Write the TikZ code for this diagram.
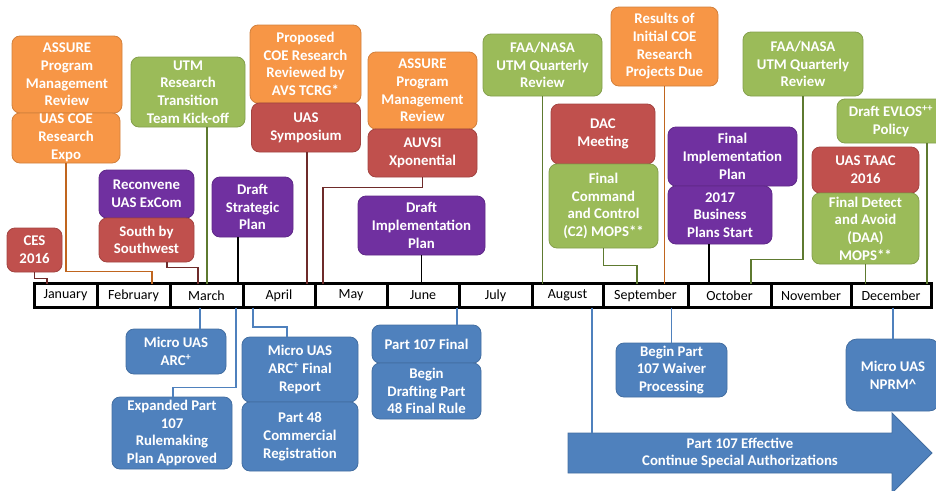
\documentclass[tikz,border=0pt]{standalone}
\usepackage{fontspec}
\setmainfont{Carlito}
\usepackage{tikz}
\usetikzlibrary{positioning}

\definecolor{orangefill}{HTML}{F79646}
\definecolor{greenfill}{HTML}{9BBB59}
\definecolor{redfill}{HTML}{C0504D}
\definecolor{purplefill}{HTML}{7030A0}
\definecolor{bluefill}{HTML}{4F81BD}
\definecolor{redwire}{HTML}{6E2B2A}
\definecolor{orangewire}{HTML}{C0651E}
\definecolor{greenwire}{HTML}{5E7A30}

\tikzset{
	event/.style={rounded corners=8pt, draw, line width=0.8pt, text=white, align=center,
		inner sep=1pt, font=\fontsize{14.8}{17.7}\selectfont\bfseries},
	orangebox/.style={event, fill=orangefill, draw=orangefill!85!black},
	greenbox/.style={event, fill=greenfill, draw=greenfill!85!black},
	redbox/.style={event, fill=redfill, draw=redfill!85!black},
	purplebox/.style={event, fill=purplefill, draw=purplefill!85!black},
	bluebox/.style={event, fill=bluefill, draw=bluefill!85!black},
	month/.style={draw, line width=3pt, fill=white, minimum height=24pt, outer sep=0pt,
		inner sep=0pt, font=\fontsize{14}{16}\selectfont},
	redline/.style={draw=redwire, line width=1.8pt},
	orangeline/.style={draw=orangewire, line width=1.8pt},
	greenline/.style={draw=greenwire, line width=1.8pt},
	blackline/.style={draw=black, line width=1.8pt},
	blueline/.style={draw=bluefill, line width=1.8pt}
}

\begin{document}
\begin{tikzpicture}[x=1pt, y=-1pt]
	\useasboundingbox (0,0) rectangle (936,490);
	
	\node[month, minimum width=63pt] (jan) at (65.5,295.5) {January};
	\node[month, minimum width=73pt, right=0pt of jan] (feb) {February};
	\node[month, minimum width=73pt, right=0pt of feb] (mar) {March};
	\node[month, minimum width=72pt, right=0pt of mar] (apr) {April};
	\node[month, minimum width=72pt, right=0pt of apr] (may) {May};
	\node[month, minimum width=72pt, right=0pt of may] (jun) {June};
	\node[month, minimum width=73pt, right=0pt of jun] (jul) {July};
	\node[month, minimum width=71pt, right=0pt of jul] (aug) {August};
	\node[month, minimum width=85pt, right=0pt of aug] (sep) {September};
	\node[month, minimum width=83pt, right=0pt of sep] (oct) {October};
	\node[month, minimum width=80pt, right=0pt of oct] (nov) {November};
	\node[month, minimum width=80pt, right=0pt of nov] (dec) {December};
	
	\node[orangebox, minimum width=110pt, minimum height=77pt] (assureA) at (67,74.5) {ASSURE\\Program\\Management\\Review};
	\node[orangebox, minimum width=108pt, minimum height=50pt] (coeExpo) at (66,138) {UAS COE\\Research\\Expo};
	\node[redbox, minimum width=55pt, minimum height=44pt] (ces) at (34.5,250) {CES\\2016};
	\node[purplebox, minimum width=95pt, minimum height=48pt] (exCom) at (146.5,194) {Reconvene\\UAS ExCom};
	\node[redbox, minimum width=95pt, minimum height=44pt] (sxsw) at (146.5,240) {South by\\Southwest};
	\node[greenbox, minimum width=114pt, minimum height=70pt] (utmKick) at (188,92) {UTM\\Research\\Transition\\Team Kick-off};
	\node[purplebox, minimum width=81pt, minimum height=60pt] (stratPlan) at (252.5,207) {Draft\\Strategic\\Plan};
	\node[orangebox, minimum width=111pt, minimum height=78pt] (proposed) at (305.5,64) {Proposed\\COE Research\\Reviewed by\\AVS TCRG*};
	\node[redbox, minimum width=109pt, minimum height=49pt] (symposium) at (306,127.5) {UAS\\Symposium};
	\node[orangebox, minimum width=109pt, minimum height=77pt] (assureB) at (422.5,90.5) {ASSURE\\Program\\Management\\Review};
	\node[redbox, minimum width=109pt, minimum height=48pt] (auvsi) at (422.5,153) {AUVSI\\Xponential};
	\node[purplebox, minimum width=127pt, minimum height=59pt] (implPlan) at (421.5,225.5) {Draft\\Implementation\\Plan};
	\node[greenbox, minimum width=119pt, minimum height=62pt] (utmQR1) at (542.5,65) {FAA/NASA\\UTM Quarterly\\Review};
	\node[redbox, minimum width=104pt, minimum height=60pt] (dac) at (603,134) {DAC\\Meeting};
	\node[greenbox, minimum width=109pt, minimum height=84pt] (c2mops) at (603.5,206) {Final\\Command\\and Control\\(C2) MOPS**};
	\node[orangebox, minimum width=107pt, minimum height=79pt] (coeResults) at (664.5,46.5) {Results of\\Initial COE\\Research\\Projects Due};
	\node[purplebox, minimum width=129pt, minimum height=59pt] (finalImpl) at (732.5,156.5) {Final\\Implementation\\Plan};
	\node[purplebox, minimum width=104pt, minimum height=58pt] (bizPlans) at (720,215) {2017\\Business\\Plans Start};
	\node[greenbox, minimum width=120pt, minimum height=64pt] (utmQR2) at (803,64) {FAA/NASA\\UTM Quarterly\\Review};
	\node[greenbox, minimum width=108pt, minimum height=44pt] (evlos) at (891,121) {Draft EVLOS\textsuperscript{++}\\Policy};
	\node[redbox, minimum width=107pt, minimum height=46pt] (taac) at (865.5,170) {UAS TAAC\\2016};
	\node[greenbox, minimum width=107pt, minimum height=71pt] (daa) at (865.5,228.5) {Final Detect\\and Avoid\\(DAA)\\MOPS**};
	
	\node[bluebox, minimum width=100pt, minimum height=45pt] (arcA) at (176,351.5) {Micro UAS\\ARC\textsuperscript{+}};
	\node[bluebox, minimum width=120pt, minimum height=72pt] (expanded) at (172,433) {Expanded Part\\107\\Rulemaking\\Plan Approved};
	\node[bluebox, minimum width=116pt, minimum height=65pt] (arcFinal) at (300,369.5) {Micro UAS\\ARC\textsuperscript{+} Final\\Report};
	\node[bluebox, minimum width=116pt, minimum height=69pt] (part48) at (300,436.5) {Part 48\\Commercial\\Registration};
	\node[bluebox, minimum width=109pt, minimum height=38pt] (p107Final) at (426.5,344) {Part 107 Final};
	\node[bluebox, minimum width=109pt, minimum height=56pt] (drafting48) at (426.5,391) {Begin\\Drafting Part\\48 Final Rule};
	\node[bluebox, minimum width=111pt, minimum height=54pt] (waiver) at (671.5,370) {Begin Part\\107 Waiver\\Processing};
	\node[bluebox, minimum width=94pt, minimum height=72pt, rounded corners=11pt] (nprm) at (893,375) {Micro UAS\\NPRM\textasciicircum};
	
	\filldraw[fill=bluefill, draw=bluefill!85!black, line width=0.8pt] (568,433) -- (892,433) -- (892,413) -- (932,453) -- (892,493) -- (892,473) -- (568,473) -- cycle;
	\node[event, draw=none] (effective) at (740,453) {Part 107 Effective\\Continue Special Authorizations};
	\coordinate (effTop) at (592,433);
	
	\draw[redline] (ces.south) -- ++(0,6) -| (jan.north -| 47,0);
	\draw[orangeline] (coeExpo.south) -- ++(0,108) -| (feb.north -| 152,0);
	\draw[redline] (sxsw.south -| 167,0) -- ++(0,5) -| (mar.north -| 198,0);
	\draw[greenline] (utmKick.south -| 207,0) -- (mar.north -| 207,0);
	\draw[blackline] (stratPlan.south -| 238,0) -- (mar.north -| 238,0);
	\draw[redline] (symposium.south -| 307,0) -- (apr.north -| 307,0);
	\draw[redline] (auvsi.south) -- ++(0,10) -| (may.north -| 323,0);
	\draw[blackline] (implPlan.south) -- (implPlan.south |- jun.north);
	\draw[greenline] (utmQR1.south) -- (utmQR1.south |- aug.north);
	\draw[greenline] (c2mops.south) -- ++(0,17) -| (sep.north -| 637,0);
	\draw[orangeline] (coeResults.south) -- (coeResults.south |- sep.north);
	\draw[blackline] (bizPlans.south -| 709,0) -- (oct.north -| 709,0);
	\draw[greenline] (utmQR2.south) -- ++(0,163) -| (oct.north -| 751,0);
	\draw[greenline] (daa.south) -- (daa.south |- dec.north);
	\draw[greenline] (evlos.south -| 927,0) -- (dec.north -| 927,0);
	
	\draw[blueline] (mar.south -| 200,0) -- (arcA.north -| 200,0);
	\draw[blueline] (mar.south -| 236,0) -- ++(0,80) -| (expanded.north -| 173,0);
	\draw[blueline] (apr.south -| 253,0) -- ++(0,19.5) -| (arcFinal.north -| 287,0);
	\draw[blueline] (jun.south -| 457,0) -- (p107Final.north -| 457,0);
	\draw[blueline] (sep.south -| waiver.north) -- (waiver.north);
	\draw[blueline] (dec.south -| nprm.north) -- (nprm.north);
	\draw[blueline] (aug.south -| effTop) -- (effTop);
\end{tikzpicture}
\end{document}
